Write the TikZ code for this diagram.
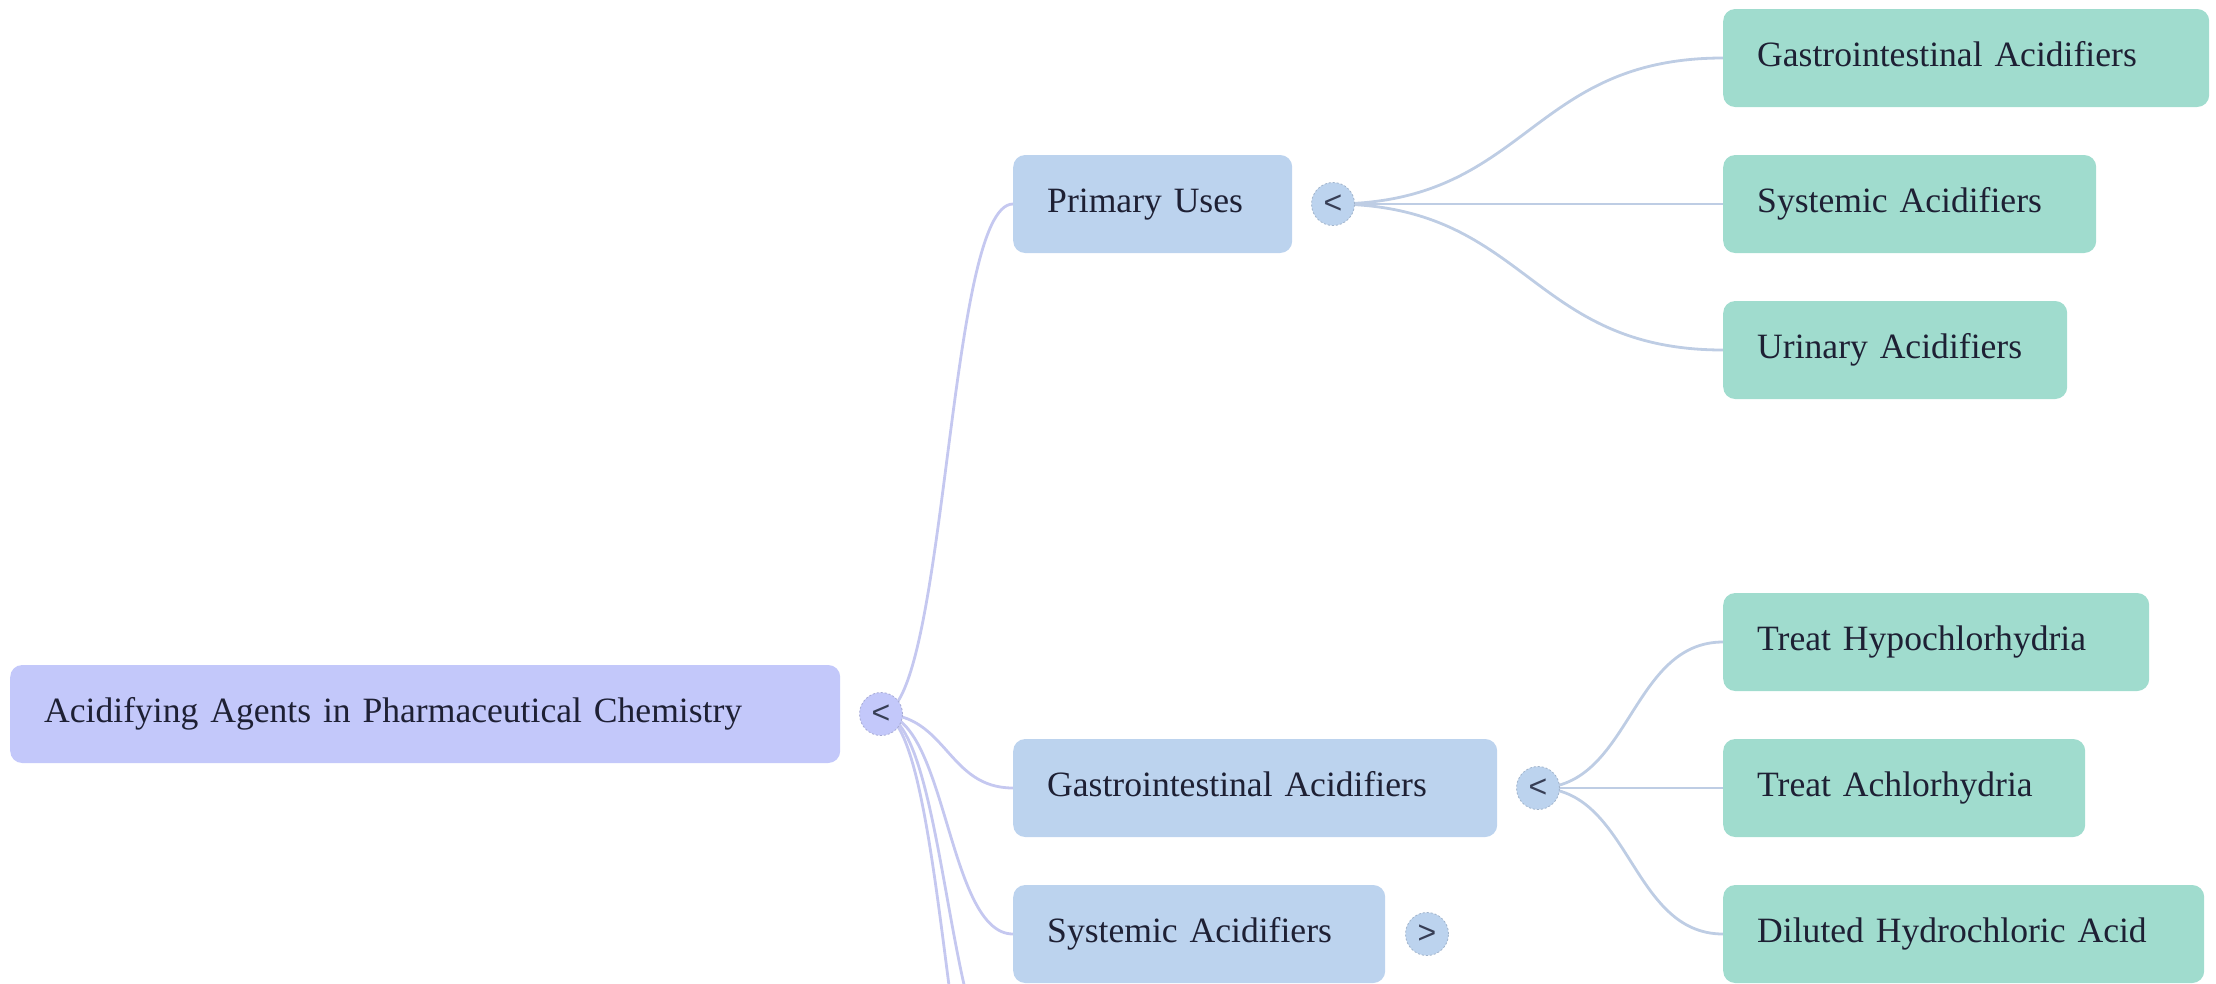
\documentclass[tikz,border=0pt]{standalone}
\usepackage{fontspec}
\setmainfont{Liberation Serif}
\newfontfamily\togfont{Liberation Sans}
\usetikzlibrary{calc}
\pgfdeclarelayer{bg}
\pgfsetlayers{bg,main}
\definecolor{rootfill}{RGB}{195,200,250}
\definecolor{midfill}{RGB}{188,211,238}
\definecolor{leaffill}{RGB}{160,220,206}
\definecolor{rootlink}{RGB}{197,200,240}
\definecolor{midlink}{RGB}{190,205,228}
\definecolor{txt}{RGB}{30,32,52}
\definecolor{togtxt}{RGB}{55,62,85}
\tikzset{
  x=1pt, y=-1pt,
  mmbox/.style={rectangle, rounded corners=12pt, anchor=west, minimum height=98pt,
    inner xsep=34pt, inner ysep=0pt, align=left, text=txt,
    font=\fontsize{35.6}{42}\selectfont, text height=24.3pt, text depth=7.7pt},
  rootbox/.style={mmbox, fill=rootfill},
  midbox/.style={mmbox, fill=midfill},
  leafbox/.style={mmbox, fill=leaffill},
  tog/.style={circle, minimum size=43pt, inner sep=0pt, text=togtxt,
    font=\togfont\fontsize{32}{32}\selectfont, line width=0.8pt, dash pattern=on 2pt off 2pt},
  roottog/.style={tog, fill=rootfill, draw=rootfill!85!black},
  midtog/.style={tog, fill=midfill, draw=midfill!85!black},
  rlink/.style={draw=rootlink, line width=2.8pt, line cap=round},
  mlink/.style={draw=midlink, line width=2.8pt, line cap=round},
}
\newcommand\mmlink[3]{\draw[#1] let \p1=(#2.center), \p2=(#3) in
  (\p1) .. controls ({(\x1+\x2)/2},\y1) and ({(\x1+\x2)/2},\y2) .. (\p2);}
\begin{document}
\begin{tikzpicture}
\path[use as bounding box] (0,0) rectangle (2216,983);
% root
\node[rootbox, text width=762pt] (root) at (10,714) {Acidifying Agents in Pharmaceutical Chemistry};
\node[roottog] (troot) at (881,714) {<};
% level 1
\node[midbox, text width=211pt] (prim) at (1013,204) {Primary Uses};
\node[midtog] (tprim) at (1333,204) {<};
\node[midbox, text width=416pt] (gi) at (1013,788) {Gastrointestinal Acidifiers};
\node[midtog] (tgi) at (1538,788) {<};
\node[midbox, text width=304pt] (sys) at (1013,934) {Systemic Acidifiers};
\node[midtog] (tsys) at (1427,934) {>};
\coordinate (c4) at (1013,1080);
\coordinate (c5) at (1013,1226);
% leaves
\node[leafbox, text width=418pt] (lgi) at (1723,58) {Gastrointestinal Acidifiers};
\node[leafbox, text width=305pt] (lsys) at (1723,204) {Systemic Acidifiers};
\node[leafbox, text width=276pt] (luri) at (1723,350) {Urinary Acidifiers};
\node[leafbox, text width=358pt] (lhypo) at (1723,642) {Treat Hypochlorhydria};
\node[leafbox, text width=294pt] (lachl) at (1723,788) {Treat Achlorhydria};
\node[leafbox, text width=413pt] (lhcl) at (1723,934) {Diluted Hydrochloric Acid};
\begin{pgfonlayer}{bg}
\mmlink{rlink}{troot}{prim.west}
\mmlink{rlink}{troot}{gi.west}
\mmlink{rlink}{troot}{sys.west}
\mmlink{rlink}{troot}{c4}
\mmlink{rlink}{troot}{c5}
\mmlink{mlink}{tprim}{lgi.west}
\mmlink{mlink}{tprim}{lsys.west}
\mmlink{mlink}{tprim}{luri.west}
\mmlink{mlink}{tgi}{lhypo.west}
\mmlink{mlink}{tgi}{lachl.west}
\mmlink{mlink}{tgi}{lhcl.west}
\end{pgfonlayer}
\end{tikzpicture}
\end{document}
